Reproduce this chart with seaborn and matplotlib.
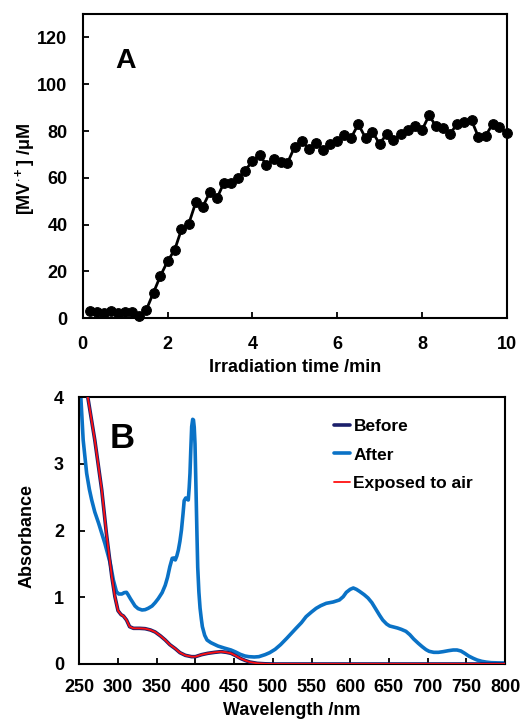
import numpy as np
import pandas as pd
import matplotlib
matplotlib.use("Agg")
import matplotlib.pyplot as plt
import seaborn as sns

# ---------------- Panel A data ----------------
time_min = [0.17, 0.33, 0.50, 0.67, 0.83, 1.00, 1.17, 1.33, 1.50, 1.67,
            1.83, 2.00, 2.17, 2.33, 2.50, 2.67, 2.83, 3.00, 3.17, 3.33,
            3.50, 3.67, 3.83, 4.00, 4.17, 4.33, 4.50, 4.67, 4.83, 5.00,
            5.17, 5.33, 5.50, 5.67, 5.83, 6.00, 6.17, 6.33, 6.50, 6.67,
            6.83, 7.00, 7.17, 7.33, 7.50, 7.67, 7.83, 8.00, 8.17, 8.33,
            8.50, 8.67, 8.83, 9.00, 9.17, 9.33, 9.50, 9.67, 9.83, 10.00]
mv_conc = [3.3, 2.6, 2.1, 3.3, 2.1, 2.9, 2.9, 1.0, 3.6, 11.0,
           18.0, 24.3, 29.3, 38.0, 40.3, 49.7, 47.6, 53.9, 51.4, 57.9,
           57.6, 60.0, 63.1, 67.1, 69.7, 65.7, 67.9, 66.7, 66.4, 73.3,
           75.7, 72.4, 75.0, 71.9, 74.6, 75.7, 78.1, 77.1, 82.9, 77.1,
           79.7, 74.6, 78.6, 76.1, 78.9, 80.3, 82.1, 80.3, 86.7, 82.1,
           81.3, 78.9, 83.1, 83.9, 84.6, 77.6, 77.9, 83.1, 81.7, 79.3]

# ---------------- Panel B data ----------------
before_nm = [250, 255, 261, 270, 279, 285, 292, 296, 300, 304, 307, 311, 315,
             320, 328, 335, 342, 348, 355, 361, 367, 374, 380, 387, 395, 400,
             408, 416, 425, 433, 440, 446, 452, 458, 464, 470, 480, 490, 500,
             550, 600, 650, 700, 750, 800]
before_abs = [4.8, 4.4, 4.0, 3.36, 2.61, 1.96, 1.31, 1.01, 0.80, 0.74, 0.72, 0.66, 0.56,
              0.535, 0.535, 0.53, 0.51, 0.48, 0.42, 0.36, 0.29, 0.23, 0.17, 0.13, 0.11, 0.11,
              0.14, 0.16, 0.175, 0.185, 0.175, 0.16, 0.125, 0.085, 0.055, 0.03, 0.01, 0.003, 0.0,
              0.0, 0.0, 0.0, 0.0, 0.0, 0.0]
exposed_nm = list(before_nm)
exposed_abs = list(before_abs)

after_nm = [250, 252, 255, 259.5, 263, 266, 270, 275, 283, 290, 294, 298, 301, 305,
            308, 311, 313, 316, 322, 326, 331, 335, 339, 344, 348, 352, 357, 361,
            364, 367, 370, 372, 374, 376, 378, 380, 382, 384, 385.5, 387.5, 389,
            390.8, 392, 393, 394, 395.2, 396.5, 397.5, 398.5, 399.5, 401, 402,
            403, 404.5, 406, 407.6, 409, 412, 415, 420, 429, 437, 446, 452, 458, 464,
            469, 476, 482, 490, 496, 503, 510, 518, 524, 530, 537, 543, 550, 556,
            562, 569, 578, 586, 591, 595, 600, 604, 608, 612, 618, 623, 628, 633,
            638, 642, 647, 651, 656, 661, 666, 672, 677, 682, 688, 693, 698, 702,
            708, 714, 720, 727, 733, 738, 743, 748, 753, 759, 764, 770, 776, 782,
            790, 800]
after_abs = [4.3, 4.0, 3.36, 2.86, 2.62, 2.46, 2.28, 2.11, 1.81, 1.51, 1.26, 1.085, 1.05, 1.05,
             1.07, 1.075, 1.04, 0.98, 0.87, 0.83, 0.81, 0.815, 0.835, 0.87, 0.92, 0.98, 1.07, 1.18,
             1.30, 1.46, 1.585, 1.59, 1.56, 1.62, 1.71, 1.84, 2.01, 2.25, 2.45, 2.49, 2.47,
             2.46, 2.65, 2.86, 3.2, 3.56, 3.67, 3.66, 3.55, 3.3, 2.5, 1.95,
             1.45, 1.08, 0.84, 0.68, 0.56, 0.43, 0.36, 0.32, 0.27, 0.24, 0.21, 0.18, 0.145, 0.12,
             0.11, 0.105, 0.11, 0.14, 0.17, 0.22, 0.29, 0.385, 0.46, 0.535, 0.62, 0.71, 0.78, 0.835,
             0.875, 0.91, 0.93, 0.96, 1.01, 1.075, 1.12, 1.14, 1.12, 1.09, 1.04, 0.99, 0.92, 0.825,
             0.73, 0.66, 0.60, 0.57, 0.555, 0.54, 0.52, 0.49, 0.44, 0.375, 0.31, 0.26, 0.215, 0.19,
             0.175, 0.175, 0.185, 0.20, 0.21, 0.21, 0.195, 0.16, 0.12, 0.085, 0.06, 0.04, 0.028, 0.02,
             0.017, 0.015]

series_labels = ["Before", "After", "Exposed to air"]
series_colors = ["#1B1F6B", "#0A72C6", "#FF1010"]

a_xticks = [0, 2, 4, 6, 8, 10]
a_yticks = [0, 20, 40, 60, 80, 100, 120]
b_xticks = [250, 300, 350, 400, 450, 500, 550, 600, 650, 700, 750, 800]
b_yticks = [0, 1, 2, 3, 4]

# ---------------- style ----------------
sns.set_style("white")
plt.rcParams["font.family"] = ["Liberation Sans", "DejaVu Sans"]
plt.rcParams["font.weight"] = "bold"
plt.rcParams["axes.labelweight"] = "bold"
plt.rcParams["text.color"] = "black"
plt.rcParams["axes.labelcolor"] = "black"
plt.rcParams["xtick.color"] = "black"
plt.rcParams["ytick.color"] = "black"
plt.rcParams["mathtext.fontset"] = "custom"
plt.rcParams["mathtext.rm"] = "Liberation Sans:bold"
plt.rcParams["mathtext.bf"] = "Liberation Sans:bold"
plt.rcParams["mathtext.it"] = "Liberation Sans:bold"

W, H = 529, 719
fig = plt.figure(figsize=(W / 100, H / 100), dpi=100)

def frac_axes(l, t, r, b):
    return fig.add_axes([l / W, 1 - b / H, (r - l) / W, (b - t) / H])

axA = frac_axes(82.7, 14, 506.7, 318.3)
axB = frac_axes(79.3, 397.3, 505, 664)

tick_fs = 13
label_fs = 13

# ---------------- Panel A ----------------
dfA = pd.DataFrame({"t": time_min, "c": mv_conc})
sns.lineplot(data=dfA, x="t", y="c", ax=axA, color="black", linewidth=2,
             marker="o", markersize=7, markeredgecolor="black",
             estimator=None, sort=False, clip_on=False, zorder=3)
axA.set_xlim(0, 10)
axA.set_ylim(0, 130)
axA.set_xticks(a_xticks)
axA.set_yticks(a_yticks)
axA.set_xlabel("Irradiation time /min", fontsize=label_fs, fontweight="bold")
axA.set_ylabel("[MV$^{\\cdot+}$] /\u03bcM", fontsize=label_fs, fontweight="bold")
axA.xaxis.set_label_coords(0.5, (318.3 - 359) / 304.3)
axA.yaxis.set_label_coords((37 - 82.7) / 424.0, 0.49)
axA.text((126 - 82.7) / 424.0, (318.3 - 68) / 304.3, "A", transform=axA.transAxes,
         ha="center", va="baseline", fontsize=20.5, fontweight="bold")

# ---------------- Panel B ----------------
dfB = pd.concat([
    pd.DataFrame({"nm": before_nm, "abs": before_abs, "s": series_labels[0]}),
    pd.DataFrame({"nm": after_nm, "abs": after_abs, "s": series_labels[1]}),
    pd.DataFrame({"nm": exposed_nm, "abs": exposed_abs, "s": series_labels[2]}),
])
sns.lineplot(data=dfB[dfB.s == "After"], x="nm", y="abs", ax=axB,
             color=series_colors[1], linewidth=2.6, estimator=None, sort=False,
             label="After", zorder=2)
sns.lineplot(data=dfB[dfB.s == "Before"], x="nm", y="abs", ax=axB,
             color=series_colors[0], linewidth=2.6, estimator=None, sort=False,
             label="Before", zorder=3)
sns.lineplot(data=dfB[dfB.s == "Exposed to air"], x="nm", y="abs", ax=axB,
             color=series_colors[2], linewidth=1.3, estimator=None, sort=False,
             label="Exposed to air", zorder=4)
axB.set_xlim(250, 800)
axB.set_ylim(0, 4)
axB.set_xticks(b_xticks)
axB.set_yticks(b_yticks)
axB.set_xlabel("Wavelength /nm", fontsize=label_fs, fontweight="bold")
axB.set_ylabel("Absorbance", fontsize=label_fs, fontweight="bold")
axB.xaxis.set_label_coords(0.5, (664 - 702) / 266.7)
axB.yaxis.set_label_coords((36 - 79.3) / 425.7, 0.48)
axB.text((122 - 79.3) / 425.7, (664 - 447.7) / 266.7, "B", transform=axB.transAxes,
         ha="center", va="baseline", fontsize=25, fontweight="bold")

handles, labels = axB.get_legend_handles_labels()
order = [labels.index(s) for s in series_labels]
leg = axB.legend([handles[i] for i in order], [labels[i] for i in order],
                 loc="upper left", bbox_to_anchor=((334 - 79.3) / 425.7, (664 - 419) / 266.7),
                 frameon=False, fontsize=12.5, handlelength=0.92, handletextpad=0.2,
                 labelspacing=0.76, borderpad=0, borderaxespad=0)
for t in leg.get_texts():
    t.set_fontweight("bold")

for ax in (axA, axB):
    for sp in ax.spines.values():
        sp.set_visible(True)
        sp.set_linewidth(1.5)
        sp.set_color("black")
    ax.tick_params(direction="in", length=4, width=1.3, colors="black",
                   labelsize=tick_fs, left=True, bottom=True)
    ax.tick_params(axis="y", pad=11)
    for lab in ax.get_xticklabels() + ax.get_yticklabels():
        lab.set_fontweight("bold")
axA.tick_params(axis="x", pad=12.5)
axB.tick_params(axis="x", pad=11)

fig.savefig("out.png", dpi=100, facecolor="white")
